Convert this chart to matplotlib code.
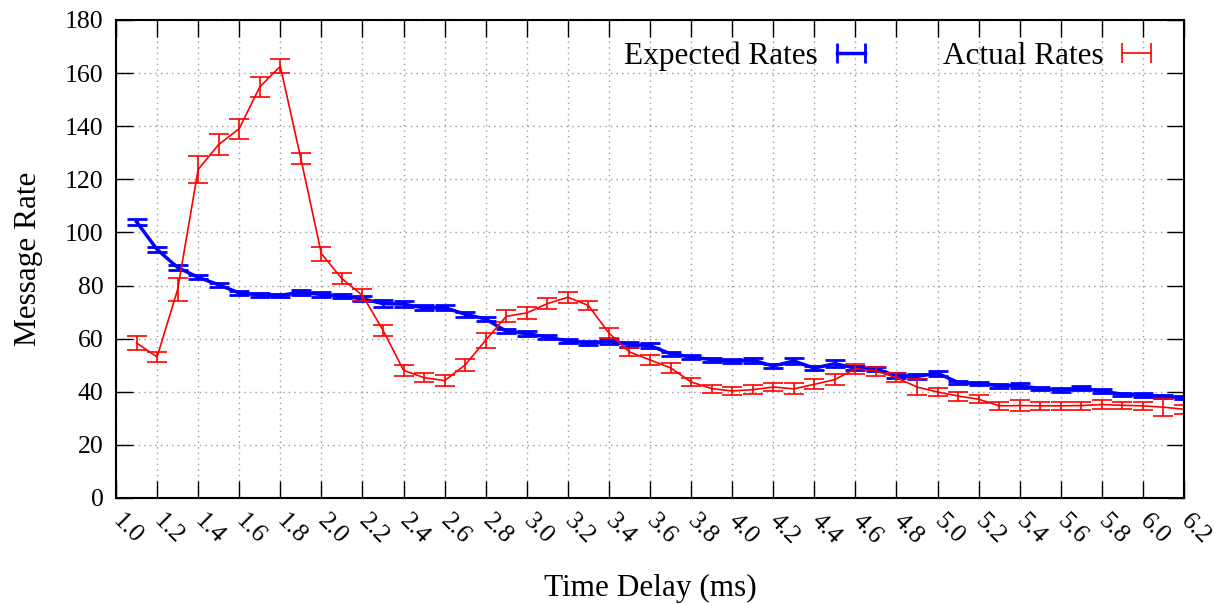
import matplotlib
matplotlib.use("Agg")
import matplotlib.pyplot as plt
from matplotlib.lines import Line2D
import numpy as np

# ---- data ----
delays = [1.1, 1.2, 1.3, 1.4, 1.5, 1.6, 1.7, 1.8, 1.9, 2.0,
          2.1, 2.2, 2.3, 2.4, 2.5, 2.6, 2.7, 2.8, 2.9, 3.0,
          3.1, 3.2, 3.3, 3.4, 3.5, 3.6, 3.7, 3.8, 3.9, 4.0,
          4.1, 4.2, 4.3, 4.4, 4.5, 4.6, 4.7, 4.8, 4.9, 5.0,
          5.1, 5.2, 5.3, 5.4, 5.5, 5.6, 5.7, 5.8, 5.9, 6.0,
          6.1, 6.2]

expected = [104.0, 93.6, 86.8, 83.1, 80.3, 77.2, 76.5, 76.3, 77.5, 76.6,
            76.0, 75.0, 73.2, 73.0, 71.6, 71.7, 69.2, 67.4, 62.8, 61.9,
            60.6, 59.1, 58.4, 58.9, 57.8, 57.4, 54.3, 53.1, 52.1, 51.5,
            51.9, 49.7, 51.6, 48.9, 50.6, 48.9, 48.6, 46.0, 45.8, 47.0,
            43.5, 43.1, 42.3, 42.3, 41.2, 40.6, 41.3, 40.2, 39.1, 38.7,
            38.2, 37.8]
expected_err = [1.1, 0.9, 0.9, 0.8, 0.8, 0.8, 0.7, 0.7, 0.9, 1.0,
                0.8, 0.9, 1.2, 1.1, 0.9, 1.0, 1.0, 0.9, 0.8, 0.8,
                0.7, 0.7, 0.7, 0.9, 0.8, 0.9, 0.8, 0.7, 0.7, 0.8,
                0.9, 0.8, 1.2, 0.8, 1.2, 0.8, 0.8, 0.9, 1.0, 1.0,
                0.7, 0.7, 0.7, 0.9, 0.7, 0.7, 0.8, 0.7, 0.6, 0.7,
                0.7, 0.6]

actual = [58.4, 53.1, 78.5, 123.7, 133.1, 139.1, 154.8, 162.6, 127.8, 92.0,
          82.6, 76.3, 63.2, 48.1, 45.3, 44.2, 50.1, 59.4, 68.4, 69.7,
          73.2, 75.6, 72.5, 62.1, 55.0, 52.0, 49.0, 43.7, 41.2, 40.3,
          40.8, 41.8, 41.1, 42.8, 44.6, 48.7, 47.8, 45.3, 41.8, 39.9,
          38.4, 37.2, 34.7, 34.8, 34.7, 34.7, 34.8, 35.2, 34.9, 34.7,
          34.2, 33.4]
actual_err = [2.5, 1.8, 4.2, 4.9, 4.0, 3.8, 3.8, 2.6, 2.2, 2.7,
              2.0, 2.3, 2.1, 2.0, 1.8, 2.2, 2.4, 2.8, 2.3, 2.2,
              2.2, 2.0, 1.8, 1.8, 1.4, 1.8, 1.9, 1.5, 1.5, 1.6,
              1.7, 1.6, 2.1, 1.9, 2.2, 1.9, 1.7, 1.7, 2.9, 1.6,
              1.7, 1.6, 1.6, 2.0, 1.6, 1.6, 1.5, 1.6, 1.4, 1.5,
              3.2, 1.6]

x_ticks = [1.0, 1.2, 1.4, 1.6, 1.8, 2.0, 2.2, 2.4, 2.6, 2.8, 3.0, 3.2, 3.4,
           3.6, 3.8, 4.0, 4.2, 4.4, 4.6, 4.8, 5.0, 5.2, 5.4, 5.6, 5.8, 6.0, 6.2]
y_ticks = [0, 20, 40, 60, 80, 100, 120, 140, 160, 180]

# ---- style ----
plt.rcParams['font.family'] = ['Liberation Serif', 'DejaVu Serif']

fig = plt.figure(figsize=(12.14, 6.05), dpi=100)
ax = fig.add_axes([116 / 1214, 1 - 498 / 605, (1184 - 116) / 1214, (498 - 20) / 605])

ax.errorbar(delays, expected, yerr=expected_err, color='#0000ff', lw=2.5,
            elinewidth=2.0, capsize=7, capthick=2.0, zorder=3)
ax.errorbar(delays, actual, yerr=actual_err, color='#ff0000', lw=1.2,
            elinewidth=1.2, capsize=7, capthick=1.2, zorder=4)

ax.set_xlim(1.0, 6.2)
ax.set_ylim(0, 180)
ax.set_xticks(x_ticks)
ax.set_xticklabels([f"{t:.1f}" for t in x_ticks], rotation=-45, ha='left',
                   va='center', rotation_mode='anchor')
ax.set_yticks(y_ticks)

ax.tick_params(axis='both', direction='in', length=12, width=1.0,
               top=True, right=True, labelsize=18.5, pad=9)
ax.tick_params(axis='x', pad=14)

ax.grid(True, color='#999999', linestyle=(0, (1, 3)), linewidth=1.0)
for s in ax.spines.values():
    s.set_linewidth(1.5)
    s.set_zorder(5)

ax.set_xlabel('Time Delay (ms)', fontsize=22.5, labelpad=19)
ax.set_ylabel('Message Rate', fontsize=22.5, labelpad=16)

handles = [Line2D([], [], color='#0000ff', lw=2.5, marker='|', markersize=14, mew=2.0),
           Line2D([], [], color='#ff0000', lw=1.2, marker='|', markersize=14, mew=1.2)]
leg = ax.legend(handles, ['Expected Rates', 'Actual Rates'], ncol=2, numpoints=2,
                markerfirst=False, frameon=False, fontsize=22.5,
                loc='upper right', bbox_to_anchor=(0.998, 1.0),
                handlelength=1.5, handletextpad=0.3, columnspacing=2.2,
                borderaxespad=0.3)

fig.savefig('out.png', dpi=100)
